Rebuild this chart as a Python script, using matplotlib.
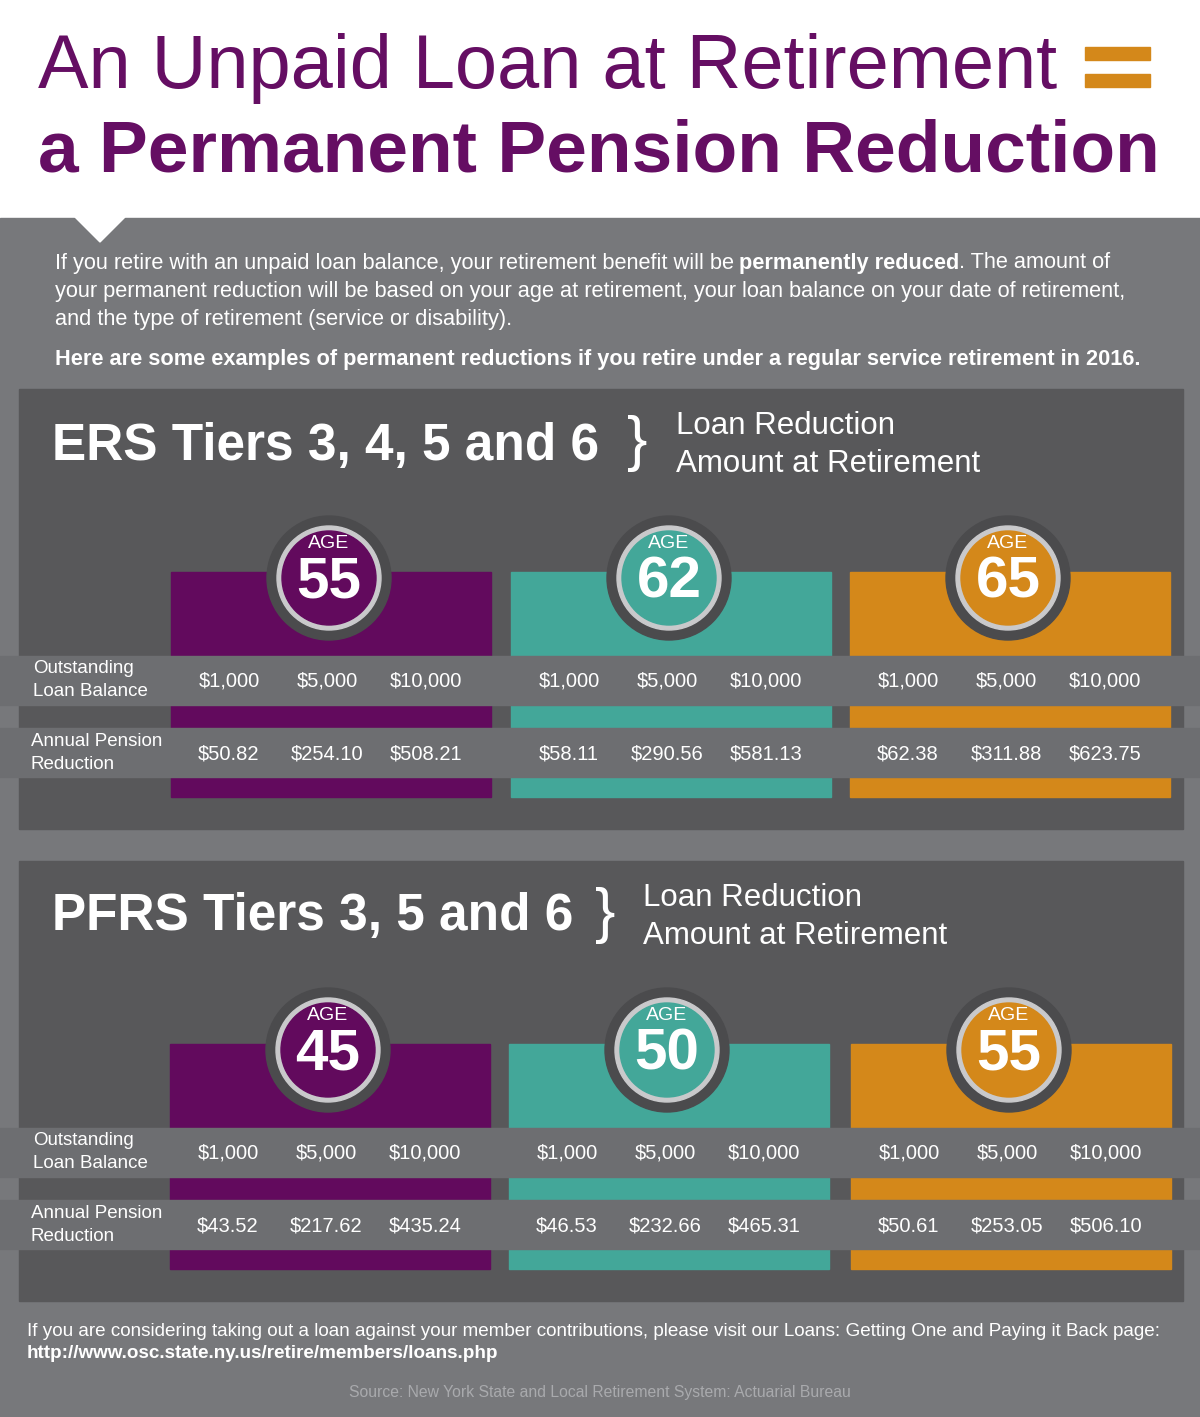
import matplotlib
matplotlib.use("Agg")
import matplotlib.pyplot as plt
from matplotlib.patches import Rectangle, Circle, Polygon

plt.rcParams['font.family'] = ['Liberation Sans', 'DejaVu Sans']

# ---- data ----
panel_titles = ["ERS Tiers 3, 4, 5 and 6", "PFRS Tiers 3, 5 and 6"]
ages = [["55", "62", "65"], ["45", "50", "55"]]
balances = ["$1,000", "$5,000", "$10,000"]
reductions = [
    [["$50.82", "$254.10", "$508.21"], ["$58.11", "$290.56", "$581.13"], ["$62.38", "$311.88", "$623.75"]],
    [["$43.52", "$217.62", "$435.24"], ["$46.53", "$232.66", "$465.31"], ["$50.61", "$253.05", "$506.10"]],
]
col_colors = ["#620a5d", "#43a799", "#d4881a"]

PURPLE = "#650e63"
BODY = "#77787b"
PANEL = "#58585a"
BAND = "#6d6e71"

fig = plt.figure(figsize=(12, 14.17), dpi=100)
ax = fig.add_axes([0, 0, 1, 1])
ax.set_xlim(0, 1200); ax.set_ylim(1417, 0); ax.axis("off")

ax.add_patch(Rectangle((0, 0), 1200, 218, color="white"))
ax.add_patch(Rectangle((0, 218), 1200, 1199, color=BODY))
ax.add_patch(Polygon([(75, 217), (125, 217), (100, 242)], color="white"))

ax.text(38, 68, "An Unpaid Loan at Retirement", fontsize=54.5, color=PURPLE, va="center", ha="left")
ax.add_patch(Rectangle((1085, 47), 65, 13, color="#d4881a"))
ax.add_patch(Rectangle((1085, 74), 65, 13, color="#d4881a"))
ax.text(38, 153, "a Permanent Pension Reduction", fontsize=52.7, color=PURPLE, fontweight="bold", va="center", ha="left")

fs = 15.7
renderer = fig.canvas.get_renderer()
x = 55
for s, w in [("If you retire with an unpaid loan balance, your retirement benefit will be", "normal"),
             ("permanently reduced", "bold"), (". The amount of", "normal")]:
    t = ax.text(x, 263, s, fontsize=fs, color="white", va="center", fontweight=w)
    bb = t.get_window_extent(renderer)
    x = x + bb.width + (5 if w == "normal" and s.startswith("If") else 0)
ax.text(55, 291, "your permanent reduction will be based on your age at retirement, your loan balance on your date of retirement,", fontsize=fs, color="white", va="center")
ax.text(55, 319, "and the type of retirement (service or disability).", fontsize=fs, color="white", va="center")
ax.text(55, 360, "Here are some examples of permanent reductions if you retire under a regular service retirement in 2016.", fontsize=15.7, color="white", va="center", fontweight="bold")

panels = [
    dict(top=389, cols=[171, 511, 850], brace=637, lr=676),
    dict(top=861, cols=[170, 509, 851], brace=605, lr=643),
]
for p, P in enumerate(panels):
    t = P["top"]; d = t - 389
    ax.add_patch(Rectangle((19, t), 1164, 440, color=PANEL))
    ax.text(52, 447 + d - (0 if p == 0 else 2), panel_titles[p], fontsize=37, color="white", fontweight="bold", va="center")
    ax.text(P["brace"], 443 + d, "}", fontsize=44, color="white", va="center", ha="center", fontweight="light")
    ax.text(P["lr"], 426 + d, "Loan Reduction", fontsize=22.5, color="white", va="center")
    ax.text(P["lr"], 464 + d, "Amount at Retirement", fontsize=22.5, color="white", va="center")
    for c, x0 in enumerate(P["cols"]):
        ax.add_patch(Rectangle((x0, 572 + d), 320, 225, color=col_colors[c]))
    ax.add_patch(Rectangle((0, 656 + d), 1200, 49, color=BAND))
    ax.add_patch(Rectangle((0, 728 + d), 1200, 49, color=BAND))
    ax.text(33, 680 + d, "Outstanding\nLoan Balance", fontsize=13.5, color="white", va="center", linespacing=1.4)
    ax.text(31, 753 + d, "Annual Pension\nReduction", fontsize=13.5, color="white", va="center", linespacing=1.4)
    for c, x0 in enumerate(P["cols"]):
        cx = x0 + 158
        ax.add_patch(Circle((cx, 578 + d), 62, color="#4b4b4d"))
        ax.add_patch(Circle((cx, 578 + d), 52, color="#c9c9cb"))
        ax.add_patch(Circle((cx, 578 + d), 47, color=col_colors[c]))
        ax.text(cx, 543 + d, "AGE", fontsize=14, color="white", ha="center", va="center")
        ax.text(cx, 582 + d, ages[p][c], fontsize=42, color="white", ha="center", va="center", fontweight="bold")
        for k, off in enumerate([58, 156, 255]):
            ax.text(x0 + off, 681 + d, balances[k], fontsize=14.5, color="white", ha="center", va="center")
            ax.text(x0 + off, 754 + d, reductions[p][c][k], fontsize=14.5, color="white", ha="center", va="center")

ax.text(27, 1331, "If you are considering taking out a loan against your member contributions, please visit our Loans: Getting One and Paying it Back page:", fontsize=13.6, color="white", va="center")
ax.text(27, 1353, "http://www.osc.state.ny.us/retire/members/loans.php", fontsize=13.6, color="white", va="center", fontweight="bold")
ax.text(600, 1393, "Source: New York State and Local Retirement System: Actuarial Bureau", fontsize=11.3, color="#a9aaad", va="center", ha="center")

fig.savefig("out.png", dpi=100)
